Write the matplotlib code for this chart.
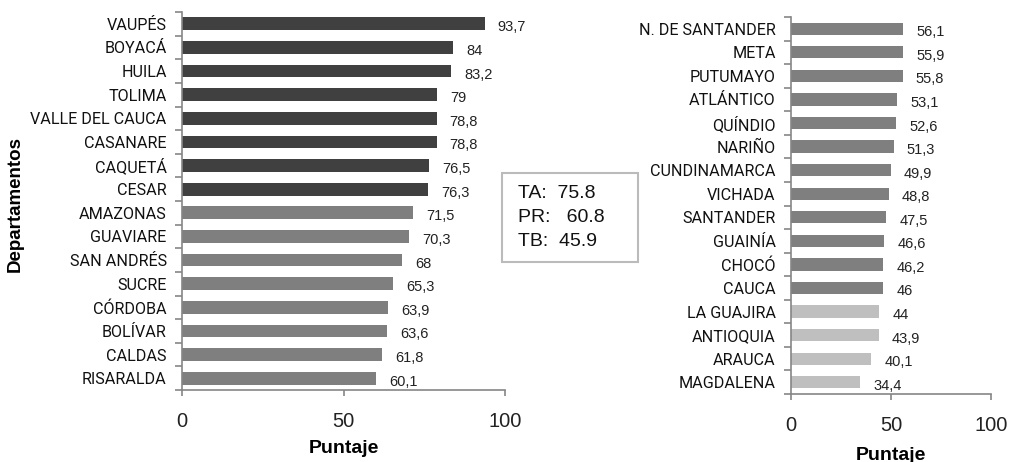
import matplotlib
matplotlib.use("Agg")
import matplotlib.pyplot as plt
from matplotlib.patches import Rectangle
import numpy as np

left_names = ["VAUPÉS", "BOYACÁ", "HUILA", "TOLIMA", "VALLE DEL CAUCA", "CASANARE",
              "CAQUETÁ", "CESAR", "AMAZONAS", "GUAVIARE", "SAN ANDRÉS", "SUCRE",
              "CÓRDOBA", "BOLÍVAR", "CALDAS", "RISARALDA"]
left_vals = [93.7, 84, 83.2, 79, 78.8, 78.8, 76.5, 76.3, 71.5, 70.3, 68, 65.3,
             63.9, 63.6, 61.8, 60.1]
left_group = ["TA"] * 8 + ["PR"] * 8

right_names = ["N. DE SANTANDER", "META", "PUTUMAYO", "ATLÁNTICO", "QUÍNDIO", "NARIÑO",
               "CUNDINAMARCA", "VICHADA", "SANTANDER", "GUAINÍA", "CHOCÓ", "CAUCA",
               "LA GUAJIRA", "ANTIOQUIA", "ARAUCA", "MAGDALENA"]
right_vals = [56.1, 55.9, 55.8, 53.1, 52.6, 51.3, 49.9, 48.8, 47.5, 46.6, 46.2, 46,
              44, 43.9, 40.1, 34.4]
right_group = ["PR"] * 12 + ["TB"] * 4

x_ticks = [0, 50, 100]
box_lines = ["TA:  75.8", "PR:   60.8", "TB:  45.9"]

group_colors = {"TA": "#404040", "PR": "#7F7F7F", "TB": "#BFBFBF"}

plt.rcParams["font.family"] = ["Liberation Sans", "DejaVu Sans"]

fig = plt.figure(figsize=(10.09, 4.62), dpi=100)
W, H = 1009, 462

def make_axes(l, r, b, t):
    return fig.add_axes([l / W, 1 - b / H, (r - l) / W, (b - t) / H])

axL = make_axes(182, 505, 390, 12)
axR = make_axes(791, 991, 394, 17)

spine_col = "#868686"

def draw(ax, names, vals, groups, height):
    y = np.arange(len(names))
    cols = [group_colors[g] for g in groups]
    ax.barh(y, vals, height=height, color=cols, zorder=2)
    ax.set_ylim(len(names) - 0.5, -0.5)
    ax.set_xlim(0, 100)
    ax.set_xticks(x_ticks)
    ax.set_xticklabels([str(v) for v in x_ticks], fontsize=14.5, color="#222222")
    ax.set_yticks(y)
    ax.set_yticklabels(names, fontsize=11.6, color="#111111",
                       family=["Roboto", "Liberation Sans"])
    ax.set_yticks(np.arange(len(names) + 1) - 0.5, minor=True)
    ax.tick_params(axis="y", which="major", length=0, pad=11)
    ax.tick_params(axis="y", which="minor", length=5, color=spine_col, width=1.2,
                   direction="out")
    ax.tick_params(axis="x", which="major", length=4, color=spine_col, width=1.2,
                   direction="out", pad=12)
    for s in ["top", "right"]:
        ax.spines[s].set_visible(False)
    for s in ["left", "bottom"]:
        ax.spines[s].set_color(spine_col)
        ax.spines[s].set_linewidth(1.2)
    for yi, v in zip(y, vals):
        lab = ("%g" % v).replace(".", ",")
        ax.annotate(lab, (v, yi), xytext=(9.5, -2.5), textcoords="offset points",
                    ha="left", va="center", fontsize=10.5, color="#222222")

draw(axL, left_names, left_vals, left_group, 0.54)
draw(axR, right_names, right_vals, right_group, 0.52)

axL.set_xlabel("Puntaje", fontsize=14, fontweight="bold")
axR.set_xlabel("Puntaje", fontsize=14, fontweight="bold")
axL.xaxis.set_label_coords(0.5, (390 - 440) / 378)
axR.xaxis.set_label_coords(0.5, (394 - 447) / 377)
axL.set_ylabel("Departamentos", fontsize=13.5, fontweight="bold")
axL.yaxis.set_label_coords((24 - 182) / 323, (390 - 204) / 378)

# summary box
fig.patches.append(Rectangle((502 / W, 1 - 262 / H), (638 - 502) / W, (262 - 173) / H,
                             transform=fig.transFigure, fill=False,
                             edgecolor="#BBBBBB", linewidth=1.5))
for i, line in enumerate(box_lines):
    fig.text(518 / W, 1 - (194 + 23.5 * i) / H, line, fontsize=14, va="center",
             ha="left", color="#111111")

fig.savefig("out.png", dpi=100)
